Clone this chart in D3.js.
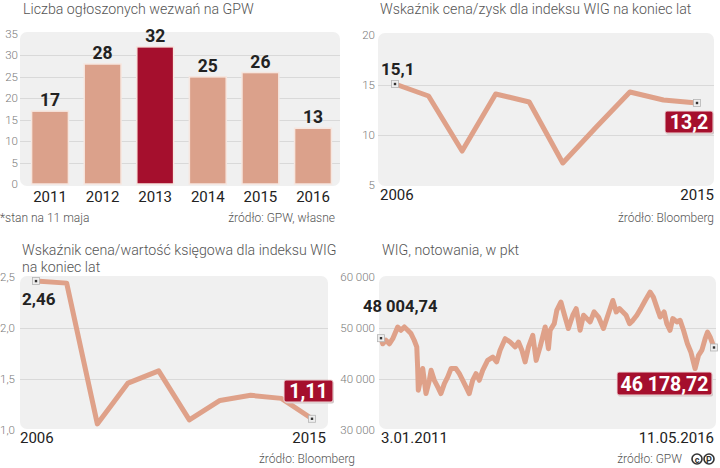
<!DOCTYPE html>
<html>
<head>
<meta charset="utf-8">
<script src="https://cdn.jsdelivr.net/npm/d3@7"></script>
<style>
  body { margin: 0; background: #fff; }
  svg { display: block; font-family: Roboto, "Noto Sans", sans-serif; }
</style>
</head>
<body>
<div id="viz"></div>
<script>
(function() {
  var svg, barYears, barValues, barHighlight, peYears, peValues, pbvYears, pbvValues, wigDates, wigValues,
      barTicks, peTicks, pbvTicks, wigTicks, xBar, yBar, xPe, yPe, xPbv, yPbv, xWig, yWig, parse,
      salmon, darkRed, panelBg, gridCol, tickCol, drawPanelBg, drawGrid, drawMarker, drawBox, drawLine;

  barYears = ["2011", "2012", "2013", "2014", "2015", "2016"];
  barValues = [17, 28, 32, 25, 26, 13];
  barHighlight = "2013";
  barTicks = [0, 5, 10, 15, 20, 25, 30, 35];

  peYears = [2006, 2007, 2008, 2009, 2010, 2011, 2012, 2013, 2014, 2015];
  peValues = [15.1, 13.9, 8.4, 14.1, 13.3, 7.2, 10.8, 14.3, 13.5, 13.2];
  peTicks = [5, 10, 15, 20];

  pbvYears = [2006, 2007, 2008, 2009, 2010, 2011, 2012, 2013, 2014, 2015];
  pbvValues = [2.46, 2.44, 1.06, 1.46, 1.58, 1.10, 1.29, 1.34, 1.31, 1.11];
  pbvTicks = [1.0, 1.5, 2.0, 2.5];

  // WIG, every 3 weeks
  wigDates = ["2011-01-03", "2011-01-13", "2011-02-01", "2011-02-21", "2011-03-13", "2011-04-11", "2011-04-30",
    "2011-05-20", "2011-06-09", "2011-06-28", "2011-07-17", "2011-08-01", "2011-08-06", "2011-08-10", "2011-08-22",
    "2011-09-05", "2011-09-24", "2011-10-14", "2011-10-24", "2011-11-12", "2011-12-02", "2011-12-21", "2012-01-10",
    "2012-01-30", "2012-02-18", "2012-03-18", "2012-04-07", "2012-04-27", "2012-05-16", "2012-06-04", "2012-06-24",
    "2012-07-14", "2012-08-02", "2012-08-22", "2012-09-20", "2012-10-20", "2012-11-12", "2012-12-02", "2013-01-01",
    "2013-01-30", "2013-03-01", "2013-03-20", "2013-04-09", "2013-04-28", "2013-05-18", "2013-06-12", "2013-07-02",
    "2013-07-25", "2013-08-24", "2013-09-12", "2013-09-22", "2013-10-16", "2013-10-31", "2013-11-24", "2013-12-13",
    "2014-01-07", "2014-02-02", "2014-02-22", "2014-03-17", "2014-04-06", "2014-04-25", "2014-05-15", "2014-06-07",
    "2014-07-03", "2014-08-01", "2014-08-30", "2014-09-25", "2014-10-15", "2014-11-03", "2014-11-23", "2014-12-12",
    "2015-01-01", "2015-01-21", "2015-02-13", "2015-03-08", "2015-04-03", "2015-05-02", "2015-05-21", "2015-06-10",
    "2015-06-30", "2015-07-23", "2015-08-08", "2015-08-27", "2015-09-12", "2015-10-06", "2015-10-25", "2015-11-14",
    "2015-12-07", "2015-12-27", "2016-01-21", "2016-02-10", "2016-03-01", "2016-03-20", "2016-04-03", "2016-04-18",
    "2016-05-11"];
  wigValues = [48004.74, 46900, 47600, 46900, 47900, 50200, 49550,
    50200, 49550, 48900, 47600, 46300, 42350, 37800, 39750,
    42050, 37150, 39750, 41700, 39750, 38450, 37150, 39100,
    40400, 42050, 42050, 41050, 39750, 38450, 37150, 39750,
    41050, 39750, 41700, 43650, 44300, 43350, 45650, 47900,
    47250, 46300, 47250, 45650, 43350, 46300, 48550, 43650,
    46300, 50200, 45950, 49550, 50850, 53450, 55100, 52800,
    49900, 52500, 53800, 49550, 52500, 51850, 51200, 53150,
    52150, 49900, 52800, 55400, 53150, 53800, 53150, 52500,
    50850, 51500, 52500, 53800, 55400, 57050, 56050, 54100,
    52150, 53150, 50850, 49550, 51850, 51200, 51500, 49550,
    46900, 45300, 42050, 44650, 45650, 47900, 49200, 48250,
    46178.72];
  wigTicks = [30000, 40000, 50000, 60000];

  salmon = "#dfa189";
  darkRed = "#a50f2d";
  panelBg = "#f0f0f0";
  gridCol = "#d9d9d9";
  tickCol = "#7a7a7a";
  parse = d3.timeParse("%Y-%m-%d");

  svg = d3.select("#viz").append("svg").attr("width", 720).attr("height", 468);

  drawPanelBg = function(x0, x1, y0, y1) {
    return svg.append("rect").attr("x", x0).attr("y", y0).attr("width", x1 - x0).attr("height", y1 - y0)
      .attr("rx", 7).attr("fill", panelBg);
  };

  drawGrid = function(y, ticks, x0, x1, labelX, fmt) {
    var g = svg.append("g");
    g.selectAll("line").data(ticks.slice(1, -1)).enter().append("line")
      .attr("x1", x0).attr("x2", x1)
      .attr("y1", function(d) { return Math.round(y(d)) + 0.5; })
      .attr("y2", function(d) { return Math.round(y(d)) + 0.5; })
      .attr("stroke", gridCol).attr("stroke-width", 1);
    g.selectAll("text").data(ticks).enter().append("text")
      .attr("x", labelX).attr("y", function(d) { return y(d) + 4; })
      .attr("text-anchor", "end").attr("font-size", 11.5).attr("font-weight", 300)
      .attr("fill", tickCol).text(fmt);
  };

  drawMarker = function(x, y) {
    svg.append("rect").attr("x", x - 3.5).attr("y", y - 3.5).attr("width", 7).attr("height", 7)
      .attr("fill", "#eeeeee").attr("stroke", "#b5b5b5").attr("stroke-width", 0.8);
    svg.append("rect").attr("x", x - 1.2).attr("y", y - 1.2).attr("width", 2.4).attr("height", 2.4).attr("fill", "#333");
  };

  drawBox = function(x0, x1, y0, y1, label) {
    svg.append("rect").attr("x", x0 + 1).attr("y", y0 + 1.5).attr("width", x1 - x0).attr("height", y1 - y0)
      .attr("rx", 2).attr("fill", "#cfc6c6");
    svg.append("rect").attr("x", x0).attr("y", y0).attr("width", x1 - x0).attr("height", y1 - y0)
      .attr("rx", 2).attr("fill", darkRed).attr("stroke", "#f1dada").attr("stroke-width", 1);
    svg.append("text").attr("x", (x0 + x1) / 2).attr("y", y1 - 4.5).attr("text-anchor", "middle")
      .attr("font-size", 19.5).attr("font-weight", 700).attr("fill", "#fff").text(label);
  };

  drawLine = function(data, x, y) {
    return svg.append("path").datum(data)
      .attr("d", d3.line().x(function(d) { return x(d[0]); }).y(function(d) { return y(d[1]); }))
      .attr("fill", "none").attr("stroke", salmon).attr("stroke-width", 5)
      .attr("stroke-linejoin", "round").attr("stroke-linecap", "round");
  };

  var title = function(x, y, lines) {
    var t = svg.append("text").attr("x", x).attr("y", y).attr("font-size", 14.2).attr("font-weight", 300).attr("fill", "#555");
    lines.forEach(function(l, i) {
      t.append("tspan").attr("x", x).attr("dy", i === 0 ? 0 : 17).text(l);
    });
  };

  var note = function(x, y, anchor, txt) {
    svg.append("text").attr("x", x).attr("y", y).attr("text-anchor", anchor)
      .attr("font-size", 12).attr("font-weight", 300).attr("fill", "#555").text(txt);
  };

  var axisLabel = function(x, y, anchor, txt) {
    svg.append("text").attr("x", x).attr("y", y).attr("text-anchor", anchor)
      .attr("font-size", 15).attr("fill", "#222").text(txt);
  };

  var valueLabel = function(x, y, anchor, txt, size) {
    svg.append("text").attr("x", x).attr("y", y).attr("text-anchor", anchor)
      .attr("font-size", size).attr("font-weight", 700).attr("fill", "#222").text(txt);
  };

  var commaFmt = function(digits) {
    return function(d) { return d.toFixed(digits).replace(".", ","); };
  };

  // ---- panel 1: bars ----
  title(23, 14, ["Liczba ogłoszonych wezwań na GPW"]);
  xBar = d3.scaleBand().domain(barYears).range([23.7, 339.3]).paddingInner(0.3).paddingOuter(0.15);
  yBar = d3.scaleLinear().domain([0, 35]).range([184, 34]);
  drawPanelBg(20, 340, 32, 186);
  drawGrid(yBar, barTicks, 20, 340, 18, function(d) { return d; });

  svg.append("g").selectAll("rect").data(barYears).enter().append("rect")
    .attr("x", function(d) { return xBar(d); })
    .attr("y", function(d, i) { return yBar(barValues[i]); })
    .attr("width", xBar.bandwidth())
    .attr("height", function(d, i) { return yBar(0) - yBar(barValues[i]); })
    .attr("fill", function(d) { return d === barHighlight ? darkRed : "#dba18b"; })
    .attr("stroke", "#f6e6df").attr("stroke-width", 1.5);

  svg.append("g").selectAll("text").data(barYears).enter().append("text")
    .attr("x", function(d) { return xBar(d) + xBar.bandwidth() / 2; })
    .attr("y", function(d, i) { return yBar(barValues[i]) - 5; })
    .attr("text-anchor", "middle").attr("font-size", 17.5).attr("font-weight", 700).attr("fill", "#222")
    .text(function(d, i) { return barValues[i]; });

  barYears.forEach(function(d) {
    axisLabel(xBar(d) + xBar.bandwidth() / 2, 202, "middle", d);
  });
  note(0, 222, "start", "*stan na 11 maja");
  note(335, 222, "end", "źródło: GPW, własne");

  // ---- panel 2: P/E ----
  title(380, 14, ["Wskaźnik cena/zysk dla indeksu WIG na koniec lat"]);
  xPe = d3.scaleLinear().domain([2006, 2015]).range([395, 697]);
  yPe = d3.scaleLinear().domain([5, 20]).range([185, 35]);
  drawPanelBg(378, 714, 33, 186);
  drawGrid(yPe, peTicks, 378, 714, 375, function(d) { return d; });
  drawLine(d3.zip(peYears, peValues), xPe, yPe);
  drawMarker(xPe(peYears[0]), yPe(peValues[0]));
  drawMarker(xPe(peYears[9]), yPe(peValues[9]));
  valueLabel(381, 75, "start", commaFmt(1)(peValues[0]), 17);
  drawBox(665, 713, 111, 133, commaFmt(1)(peValues[9]));
  axisLabel(380, 200, "start", "2006");
  axisLabel(714, 200, "end", "2015");
  note(714, 222, "end", "źródło: Bloomberg");

  // ---- panel 3: P/BV ----
  title(22, 255, ["Wskaźnik cena/wartość księgowa dla indeksu WIG", "na koniec lat"]);
  xPbv = d3.scaleLinear().domain([2006, 2015]).range([36, 312]);
  yPbv = d3.scaleLinear().domain([1, 2.5]).range([430, 277]);
  drawPanelBg(20, 328, 276, 429);
  drawGrid(yPbv, pbvTicks, 20, 328, 15, commaFmt(1));
  drawLine(d3.zip(pbvYears, pbvValues), xPbv, yPbv);
  drawMarker(xPbv(pbvYears[0]), yPbv(pbvValues[0]));
  drawMarker(xPbv(pbvYears[9]), yPbv(pbvValues[9]));
  valueLabel(22, 305, "start", commaFmt(2)(pbvValues[0]), 17);
  drawBox(284, 333, 380, 402, commaFmt(2)(pbvValues[9]));
  axisLabel(20, 443, "start", "2006");
  axisLabel(326, 443, "end", "2015");
  note(355, 463, "end", "źródło: Bloomberg");

  // ---- panel 4: WIG ----
  title(382, 255, ["WIG, notowania, w pkt"]);
  xWig = d3.scaleTime().domain([parse(wigDates[0]), parse(wigDates[wigDates.length - 1])]).range([381, 714]);
  yWig = d3.scaleLinear().domain([30000, 60000]).range([430, 277]);
  drawPanelBg(379, 716, 276, 429);
  drawGrid(yWig, wigTicks, 379, 716, 375, function(d) { return d3.format(",")(d).replace(",", " "); });
  drawLine(wigDates.map(function(d, i) { return [parse(d), wigValues[i]]; }), xWig, yWig)
    .attr("stroke-width", 5);
  drawMarker(xWig(parse(wigDates[0])), yWig(wigValues[0]));
  drawMarker(xWig(parse(wigDates[wigDates.length - 1])), yWig(wigValues[wigValues.length - 1]));
  valueLabel(363, 312, "start", "48 004,74", 16.5);
  drawBox(617, 712, 372, 395, "46 178,72");
  axisLabel(381, 443, "start", "3.01.2011");
  axisLabel(714, 443, "end", "11.05.2016");
  note(682, 463, "end", "źródło: GPW");

  // (c)(p) mark
  [["c", 697], ["P", 709]].forEach(function(m) {
    svg.append("circle").attr("cx", m[1]).attr("cy", 459).attr("r", 5)
      .attr("fill", "none").attr("stroke", "#333").attr("stroke-width", 1.6);
    svg.append("text").attr("x", m[1]).attr("y", 462.5).attr("text-anchor", "middle")
      .attr("font-size", 9).attr("font-weight", 700).attr("fill", "#333").text(m[0]);
  });
}).call(this);
</script>
</body>
</html>
